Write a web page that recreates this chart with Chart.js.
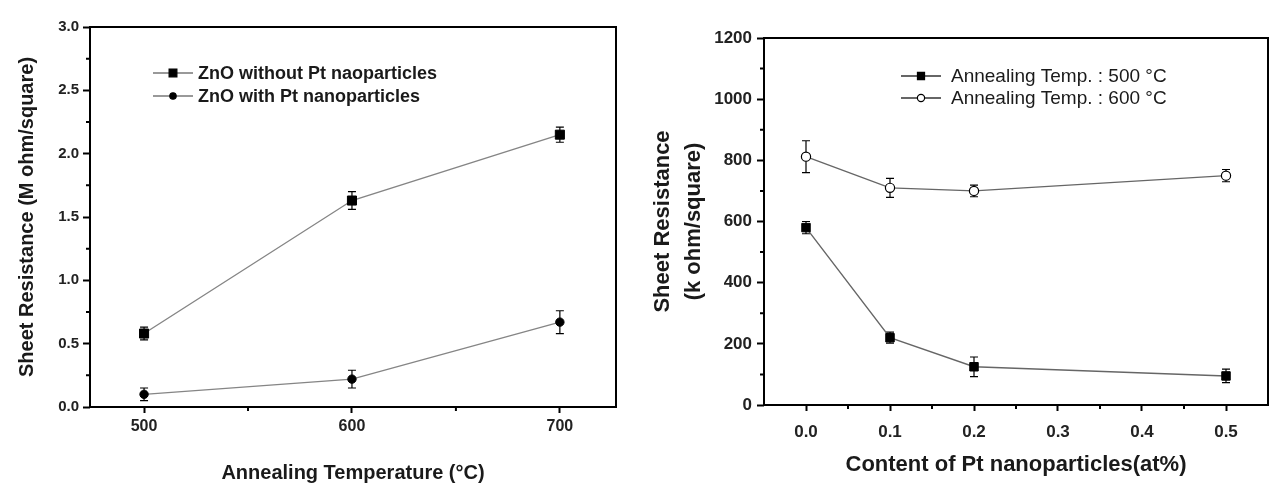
<!DOCTYPE html>
<html><head><meta charset="utf-8">
<script src="https://cdn.jsdelivr.net/npm/chart.js@4.4.1/dist/chart.umd.min.js"></script>
<style>
html,body{margin:0;padding:0;background:#fff;}
#wrap{position:relative;width:1284px;height:489px;overflow:hidden;background:#fff;}
#c1{position:absolute;left:0;top:0;}
#c2{position:absolute;left:640px;top:0;}
</style></head><body>
<div id="wrap"><canvas id="c1" width="640" height="489"></canvas><canvas id="c2" width="644" height="489"></canvas></div>
<script>
// ---------- data (left panel) ----------
const annealTemps = [500, 600, 700];
const withoutPt = [0.58, 1.63, 2.15];
const withoutPtErr = [0.05, 0.07, 0.06];
const withPt = [0.10, 0.22, 0.67];
const withPtErr = [0.05, 0.07, 0.09];
const leftXTicks = [500, 600, 700];
const leftXMinor = [550, 650];
const leftYTicks = [0, 0.5, 1.0, 1.5, 2.0, 2.5, 3.0];
const leftYMinor = [0.25, 0.75, 1.25, 1.75, 2.25, 2.75];
const leftLabels = ['ZnO without Pt naoparticles', 'ZnO with Pt nanoparticles'];

// ---------- data (right panel) ----------
const ptContent = [0.0, 0.1, 0.2, 0.5];
const anneal500 = [580, 220, 125, 95];
const anneal500Err = [20, 18, 32, 22];
const anneal600 = [812, 710, 700, 750];
const anneal600Err = [52, 31, 19, 20];
const rightXTicks = [0.0, 0.1, 0.2, 0.3, 0.4, 0.5];
const rightXMinor = [0.05, 0.15, 0.25, 0.35, 0.45];
const rightYTicks = [0, 200, 400, 600, 800, 1000, 1200];
const rightYMinor = [100, 300, 500, 700, 900, 1100];
const rightLabels = ['Annealing Temp. : 500 \u00B0C', 'Annealing Temp. : 600 \u00B0C'];

const FAM = '"Liberation Sans", Arial, Helvetica, sans-serif';
const pts = (xs, ys) => xs.map((x, i) => ({x: x, y: ys[i]}));

function drawMarker(ctx, style, x, y, r, fill) {
  ctx.save();
  ctx.lineWidth = 1.2;
  ctx.strokeStyle = '#000';
  ctx.fillStyle = fill;
  ctx.beginPath();
  if (style === 'rect') {
    const s = Math.SQRT1_2 * r;
    ctx.rect(x - s, y - s, 2 * s, 2 * s);
  } else {
    ctx.arc(x, y, r, 0, Math.PI * 2);
  }
  ctx.fill();
  ctx.stroke();
  ctx.restore();
}

const panelPlugin = {
  id: 'panel',
  beforeDatasetsDraw(chart) {
    const ctx = chart.ctx, xs = chart.scales.x, ys = chart.scales.y;
    ctx.save();
    ctx.strokeStyle = '#000';
    ctx.lineWidth = 1.2;
    chart.data.datasets.forEach(ds => {
      ds.data.forEach((p, j) => {
        const e = ds.errors[j];
        const px = xs.getPixelForValue(p.x);
        const y1 = ys.getPixelForValue(p.y + e);
        const y2 = ys.getPixelForValue(p.y - e);
        ctx.beginPath();
        ctx.moveTo(px, y1); ctx.lineTo(px, y2);
        ctx.moveTo(px - 4, y1); ctx.lineTo(px + 4, y1);
        ctx.moveTo(px - 4, y2); ctx.lineTo(px + 4, y2);
        ctx.stroke();
      });
    });
    ctx.restore();
  },
  afterDraw(chart, args, opts) {
    const ctx = chart.ctx, a = chart.chartArea, xs = chart.scales.x, ys = chart.scales.y;
    ctx.save();
    // frame
    ctx.strokeStyle = '#000';
    ctx.lineWidth = 2;
    ctx.strokeRect(a.left, a.top, a.right - a.left, a.bottom - a.top);
    // minor ticks
    ctx.beginPath();
    (opts.xMinor || []).forEach(v => {
      const px = xs.getPixelForValue(v);
      ctx.moveTo(px, a.bottom); ctx.lineTo(px, a.bottom + 4);
    });
    (opts.yMinor || []).forEach(v => {
      const py = ys.getPixelForValue(v);
      ctx.moveTo(a.left, py); ctx.lineTo(a.left - 4, py);
    });
    ctx.stroke();
    // legend
    const lg = opts.legend;
    chart.data.datasets.forEach((ds, i) => {
      const y = lg.ys[i];
      ctx.strokeStyle = lg.lineColor;
      ctx.lineWidth = 1.5;
      ctx.beginPath();
      ctx.moveTo(lg.x, y); ctx.lineTo(lg.x + 40, y);
      ctx.stroke();
      drawMarker(ctx, ds.pointStyle, lg.x + 20, y, ds.legendRadius, ds.pointBackgroundColor);
      ctx.fillStyle = '#1a1a1a';
      ctx.font = lg.font;
      ctx.textBaseline = 'middle';
      ctx.textAlign = 'left';
      ctx.fillText(ds.label, lg.x + lg.gap, y + 1);
    });
    ctx.restore();
  }
};

function axis(opts) {
  return {
    type: 'linear',
    min: opts.min, max: opts.max,
    afterBuildTicks: s => { s.ticks = opts.ticks.map(v => ({value: v})); },
    afterFit: s => { if (opts.width) s.width = opts.width; if (opts.height) s.height = opts.height; },
    border: {display: false},
    grid: {display: true, drawOnChartArea: false, drawTicks: true, tickLength: opts.tl || 6, tickColor: '#000', tickWidth: 2},
    ticks: {
      autoSkip: false, maxRotation: 0, color: '#222', padding: opts.pad,
      font: {family: FAM, size: opts.tickSize, weight: 'bold'},
      callback: opts.fmt
    },
    title: {
      display: true, text: opts.title, color: '#1a1a1a',
      font: {family: FAM, size: opts.titleSize, weight: 'bold', lineHeight: opts.lh || 1.2},
      padding: opts.titlePad
    }
  };
}

new Chart(document.getElementById('c1'), {
  type: 'scatter',
  plugins: [panelPlugin],
  data: {
    datasets: [
      {label: leftLabels[0], data: pts(annealTemps, withoutPt), errors: withoutPtErr,
       showLine: true, borderColor: '#858585', borderWidth: 1.4,
       pointStyle: 'rect', pointRadius: 6.4, legendRadius: 5.5, pointBackgroundColor: '#000', pointBorderColor: '#000', pointBorderWidth: 1},
      {label: leftLabels[1], data: pts(annealTemps, withPt), errors: withPtErr,
       showLine: true, borderColor: '#858585', borderWidth: 1.4,
       pointStyle: 'circle', pointRadius: 4.2, legendRadius: 3.2, pointBackgroundColor: '#000', pointBorderColor: '#000', pointBorderWidth: 1}
    ]
  },
  options: {
    responsive: false, animation: false, events: [],
    layout: {padding: {left: 0, top: 27, right: 24, bottom: 0}},
    plugins: {
      legend: {display: false}, tooltip: {enabled: false},
      panel: {xMinor: leftXMinor, yMinor: leftYMinor,
        legend: {x: 153, gap: 45, ys: [73, 96], lineColor: '#777', font: 'bold 18px ' + FAM}}
    },
    scales: {
      x: axis({min: 474, max: 727, ticks: leftXTicks, height: 82, pad: 4, tl: 6, tickSize: 16,
        fmt: v => String(v), title: 'Annealing Temperature (\u00B0C)', titleSize: 20, titlePad: {top: 0, bottom: 4}}),
      y: axis({min: 0, max: 3, ticks: leftYTicks, width: 90, pad: 4, tl: 7, tickSize: 15,
        fmt: v => v.toFixed(1), title: 'Sheet Resistance (M ohm/square)', titleSize: 20, titlePad: {top: 15, bottom: 0}})
    }
  }
});

new Chart(document.getElementById('c2'), {
  type: 'scatter',
  plugins: [panelPlugin],
  data: {
    datasets: [
      {label: rightLabels[0], data: pts(ptContent, anneal500), errors: anneal500Err,
       showLine: true, borderColor: '#666', borderWidth: 1.4,
       pointStyle: 'rect', pointRadius: 6, legendRadius: 5, pointBackgroundColor: '#000', pointBorderColor: '#000', pointBorderWidth: 1},
      {label: rightLabels[1], data: pts(ptContent, anneal600), errors: anneal600Err,
       showLine: true, borderColor: '#666', borderWidth: 1.4,
       pointStyle: 'circle', pointRadius: 4.6, legendRadius: 3.6, pointBackgroundColor: '#fff', pointBorderColor: '#000', pointBorderWidth: 1.2}
    ]
  },
  options: {
    responsive: false, animation: false, events: [],
    layout: {padding: {left: 0, top: 38, right: 16, bottom: 0}},
    plugins: {
      legend: {display: false}, tooltip: {enabled: false},
      panel: {xMinor: rightXMinor, yMinor: rightYMinor,
        legend: {x: 261, gap: 50, ys: [76, 98], lineColor: '#333', font: '19px ' + FAM}}
    },
    scales: {
      x: axis({min: -0.05, max: 0.55, ticks: rightXTicks, height: 84, pad: 11, tl: 6, tickSize: 17,
        fmt: v => v.toFixed(1), title: 'Content of Pt nanoparticles(at%)', titleSize: 22, titlePad: {top: 0, bottom: 11}}),
      y: axis({min: 0, max: 1200, ticks: rightYTicks, width: 124, pad: 5, tl: 7, tickSize: 17,
        fmt: v => String(v), title: ['Sheet Resistance', '(k ohm/square)'], titleSize: 22, lh: 1.42, titlePad: {top: 7.5, bottom: 0}})
    }
  }
});
</script>
</body></html>
